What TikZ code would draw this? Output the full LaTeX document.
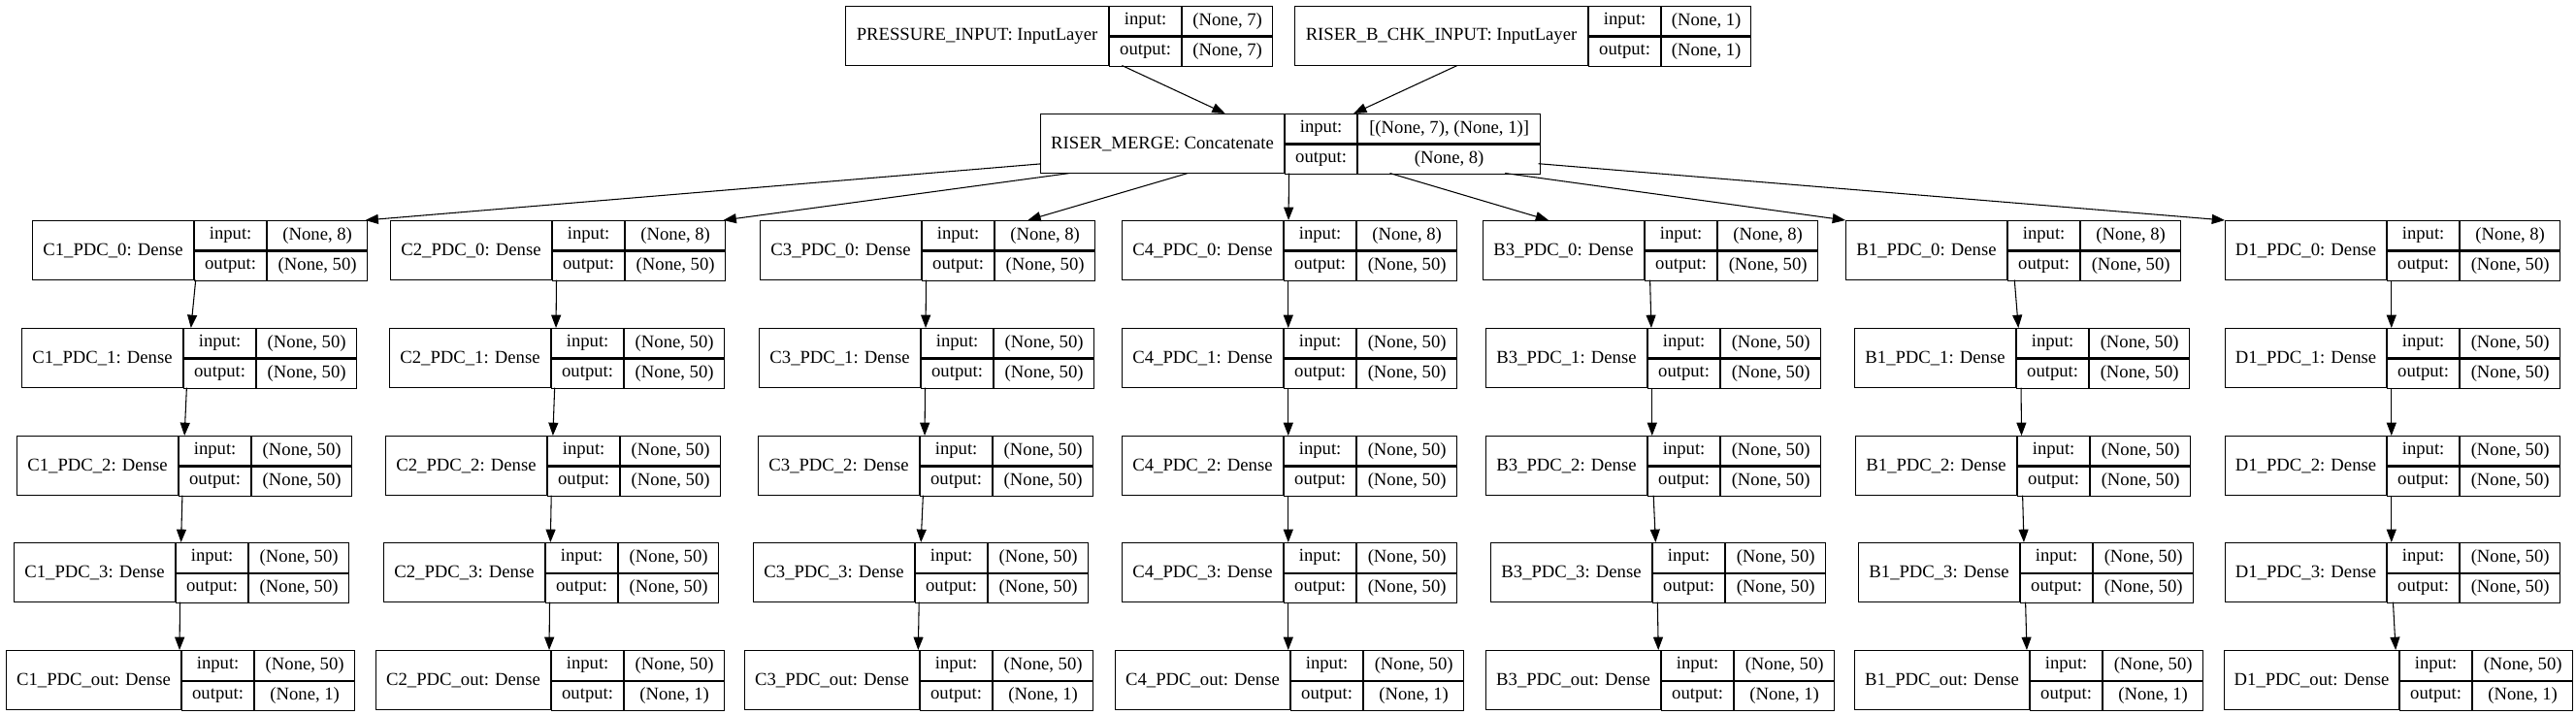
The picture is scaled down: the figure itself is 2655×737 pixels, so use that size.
\documentclass[tikz,border=0pt]{standalone}
\usepackage{fontspec}
\setmainfont{Liberation Serif}
\usetikzlibrary{arrows.meta}

% one record box: id, x, y, name/label/value widths, name, input, output
\newcommand{\layer}[9]{%
\node[rec,minimum width={(#4+#5+#6)*0.75pt}] (#1) at (#2,#3) {};
\node[cell,minimum width={#4*0.75pt},minimum height=45.75pt] (#1n) at (#1.north west) {#7};
\node[cell,minimum width={#5*0.75pt}] (#1i) at (#1n.north east) {input:};
\node[cell,minimum width={#5*0.75pt}] (#1o) at (#1i.south west) {output:};
\node[cell,minimum width={#6*0.75pt}] (#1a) at (#1i.north east) {#8};
\node[cell,minimum width={#6*0.75pt}] (#1b) at (#1a.south west) {#9};
}

\begin{document}
\begin{tikzpicture}[x=0.75pt,y=-0.75pt,
  font=\fontsize{14}{16}\selectfont,
  rec/.style={inner sep=0pt,minimum height=45.75pt,anchor=north west},
  cell/.style={draw,line width=0.8pt,inner sep=0pt,minimum height=22.875pt,anchor=north west},
  edge/.style={line width=0.8pt,-{Triangle[length=10pt,width=7.5pt]}}]
\useasboundingbox[fill=white] (0,0) rectangle (2655,737);

\layer{pin}{871}{6}{271}{74}{93}{PRESSURE\_INPUT: InputLayer}{(None, 7)}{(None, 7)}
\layer{chk}{1334}{6}{302}{74}{92}{RISER\_B\_CHK\_INPUT: InputLayer}{(None, 1)}{(None, 1)}
\layer{merge}{1072}{117}{251}{74}{188}{RISER\_MERGE: Concatenate}{[(None, 7), (None, 1)]}{(None, 8)}

\layer{c1p0}{33}{227}{166}{74}{103}{C1\_PDC\_0: Dense}{(None, 8)}{(None, 50)}
\layer{c2p0}{402}{227}{166}{74}{103}{C2\_PDC\_0: Dense}{(None, 8)}{(None, 50)}
\layer{c3p0}{783}{227}{166}{74}{103}{C3\_PDC\_0: Dense}{(None, 8)}{(None, 50)}
\layer{c4p0}{1156}{227}{166}{74}{103}{C4\_PDC\_0: Dense}{(None, 8)}{(None, 50)}
\layer{b3p0}{1528}{227}{166}{74}{103}{B3\_PDC\_0: Dense}{(None, 8)}{(None, 50)}
\layer{b1p0}{1902}{227}{166}{74}{103}{B1\_PDC\_0: Dense}{(None, 8)}{(None, 50)}
\layer{d1p0}{2293}{227}{166}{74}{103}{D1\_PDC\_0: Dense}{(None, 8)}{(None, 50)}

\layer{c1p1}{22}{338}{166}{74}{103}{C1\_PDC\_1: Dense}{(None, 50)}{(None, 50)}
\layer{c2p1}{401}{338}{166}{74}{103}{C2\_PDC\_1: Dense}{(None, 50)}{(None, 50)}
\layer{c3p1}{782}{338}{166}{74}{103}{C3\_PDC\_1: Dense}{(None, 50)}{(None, 50)}
\layer{c4p1}{1156}{338}{166}{74}{103}{C4\_PDC\_1: Dense}{(None, 50)}{(None, 50)}
\layer{b3p1}{1531}{338}{166}{74}{103}{B3\_PDC\_1: Dense}{(None, 50)}{(None, 50)}
\layer{b1p1}{1911}{338}{166}{74}{103}{B1\_PDC\_1: Dense}{(None, 50)}{(None, 50)}
\layer{d1p1}{2293}{338}{166}{74}{103}{D1\_PDC\_1: Dense}{(None, 50)}{(None, 50)}

\layer{c1p2}{17}{449}{166}{74}{103}{C1\_PDC\_2: Dense}{(None, 50)}{(None, 50)}
\layer{c2p2}{397}{449}{166}{74}{103}{C2\_PDC\_2: Dense}{(None, 50)}{(None, 50)}
\layer{c3p2}{781}{449}{166}{74}{103}{C3\_PDC\_2: Dense}{(None, 50)}{(None, 50)}
\layer{c4p2}{1156}{449}{166}{74}{103}{C4\_PDC\_2: Dense}{(None, 50)}{(None, 50)}
\layer{b3p2}{1531}{449}{166}{74}{103}{B3\_PDC\_2: Dense}{(None, 50)}{(None, 50)}
\layer{b1p2}{1912}{449}{166}{74}{103}{B1\_PDC\_2: Dense}{(None, 50)}{(None, 50)}
\layer{d1p2}{2293}{449}{166}{74}{103}{D1\_PDC\_2: Dense}{(None, 50)}{(None, 50)}

\layer{c1p3}{14}{559}{166}{74}{103}{C1\_PDC\_3: Dense}{(None, 50)}{(None, 50)}
\layer{c2p3}{395}{559}{166}{74}{103}{C2\_PDC\_3: Dense}{(None, 50)}{(None, 50)}
\layer{c3p3}{776}{559}{166}{74}{103}{C3\_PDC\_3: Dense}{(None, 50)}{(None, 50)}
\layer{c4p3}{1156}{559}{166}{74}{103}{C4\_PDC\_3: Dense}{(None, 50)}{(None, 50)}
\layer{b3p3}{1536}{559}{166}{74}{103}{B3\_PDC\_3: Dense}{(None, 50)}{(None, 50)}
\layer{b1p3}{1915}{559}{166}{74}{103}{B1\_PDC\_3: Dense}{(None, 50)}{(None, 50)}
\layer{d1p3}{2293}{559}{166}{74}{103}{D1\_PDC\_3: Dense}{(None, 50)}{(None, 50)}

\layer{c1po}{6}{670}{180}{74}{103}{C1\_PDC\_out: Dense}{(None, 50)}{(None, 1)}
\layer{c2po}{387}{670}{180}{74}{103}{C2\_PDC\_out: Dense}{(None, 50)}{(None, 1)}
\layer{c3po}{767}{670}{180}{74}{103}{C3\_PDC\_out: Dense}{(None, 50)}{(None, 1)}
\layer{c4po}{1149}{670}{180}{74}{103}{C4\_PDC\_out: Dense}{(None, 50)}{(None, 1)}
\layer{b3po}{1531}{670}{180}{74}{103}{B3\_PDC\_out: Dense}{(None, 50)}{(None, 1)}
\layer{b1po}{1911}{670}{180}{74}{103}{B1\_PDC\_out: Dense}{(None, 50)}{(None, 1)}
\layer{d1po}{2292}{670}{180}{74}{103}{D1\_PDC\_out: Dense}{(None, 50)}{(None, 1)}

% inputs into the merge
\draw[edge] (pin) -- (merge);
\draw[edge] (chk) -- (merge);
% fan out
\draw[edge] (merge) -- (c1p0.north east);
\draw[edge] (merge) -- (c2p0.north east);
\draw[edge] (merge) -- (c3p0);
\draw[edge] (merge) -- (c4p0);
\draw[edge] (merge) -- (b3p0);
\draw[edge] (merge) -- (b1p0.north west);
\draw[edge] (merge) -- (d1p0.north west);
% chains
\draw[edge] (c1p0) -- (c1p1); \draw[edge] (c1p1) -- (c1p2); \draw[edge] (c1p2) -- (c1p3); \draw[edge] (c1p3) -- (c1po);
\draw[edge] (c2p0) -- (c2p1); \draw[edge] (c2p1) -- (c2p2); \draw[edge] (c2p2) -- (c2p3); \draw[edge] (c2p3) -- (c2po);
\draw[edge] (c3p0) -- (c3p1); \draw[edge] (c3p1) -- (c3p2); \draw[edge] (c3p2) -- (c3p3); \draw[edge] (c3p3) -- (c3po);
\draw[edge] (c4p0) -- (c4p1); \draw[edge] (c4p1) -- (c4p2); \draw[edge] (c4p2) -- (c4p3); \draw[edge] (c4p3) -- (c4po);
\draw[edge] (b3p0) -- (b3p1); \draw[edge] (b3p1) -- (b3p2); \draw[edge] (b3p2) -- (b3p3); \draw[edge] (b3p3) -- (b3po);
\draw[edge] (b1p0) -- (b1p1); \draw[edge] (b1p1) -- (b1p2); \draw[edge] (b1p2) -- (b1p3); \draw[edge] (b1p3) -- (b1po);
\draw[edge] (d1p0) -- (d1p1); \draw[edge] (d1p1) -- (d1p2); \draw[edge] (d1p2) -- (d1p3); \draw[edge] (d1p3) -- (d1po);
\end{tikzpicture}
\end{document}
